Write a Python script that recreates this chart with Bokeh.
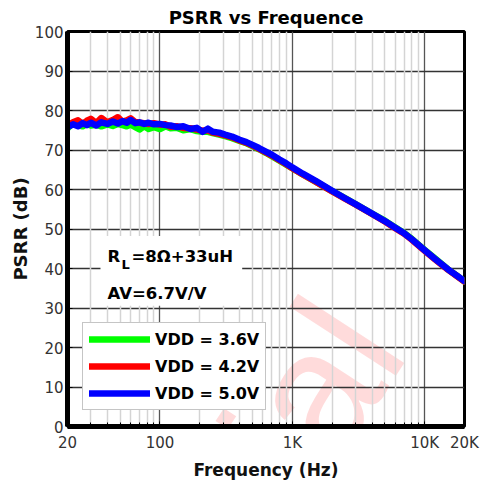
from bokeh.plotting import figure
from bokeh.models import (Range1d, FixedTicker, Grid, Label, BoxAnnotation)
from bokeh.core.properties import value
from bokeh.embed import file_html
from bokeh.resources import INLINE

# ---- data ----
freq = [20, 22, 24, 26, 28, 30, 33, 36, 40, 44, 48, 52, 56, 60, 65, 70, 76, 82, 90, 100,
        110, 120, 135, 150, 170, 190, 210, 230, 250, 280, 310, 350, 400, 450, 500, 560, 630,
        700, 800, 900, 1000, 1200, 1500, 2000, 2500, 3000, 4000, 5000, 6000, 7000, 8000,
        10000, 12000, 15000, 17500, 20000]

psrr_36 = [75.5, 76.8, 76.3, 76.0, 76.6, 76.2, 76.4, 76.0, 76.5, 76.1,
           76.6, 76.3, 76.0, 76.4, 75.8, 75.2, 76.0, 75.3, 75.8, 75.3,
           76.0, 75.5, 75.6, 75.0, 75.3, 74.8, 74.6, 74.6, 74.3, 73.9,
           73.5, 73.0, 72.3, 71.7, 71.0, 70.2, 69.3, 68.4, 67.3, 66.3,
           65.4, 63.8, 62.0, 59.6, 57.8, 56.3, 53.9, 52.1, 50.4, 49.0,
           47.5, 44.7, 42.5, 39.8, 38.2, 36.7]

psrr_42 = [76.2, 77.0, 77.5, 76.6, 77.4, 77.9, 76.8, 78.1, 77.0, 77.6,
           78.3, 77.2, 77.5, 78.0, 77.1, 76.9, 76.8, 76.6, 76.8, 76.4,
           76.5, 75.9, 76.0, 75.6, 75.5, 75.2, 74.9, 75.0, 74.4, 74.1,
           73.7, 73.2, 72.4, 71.8, 71.1, 70.3, 69.4, 68.6, 67.4, 66.4,
           65.4, 63.8, 62.0, 59.5, 57.7, 56.2, 53.8, 51.9, 50.2, 48.8,
           47.3, 44.5, 42.3, 39.7, 38.1, 36.7]

psrr_50 = [75.8, 76.5, 76.0, 76.8, 76.3, 76.9, 76.2, 77.0, 76.6, 77.2,
           76.7, 77.3, 76.9, 77.6, 76.8, 77.0, 76.6, 76.9, 76.5, 76.6,
           76.3, 76.2, 75.8, 76.0, 75.3, 75.6, 74.6, 75.4, 74.6, 74.4,
           73.9, 73.4, 72.6, 72.0, 71.3, 70.5, 69.6, 68.8, 67.6, 66.6,
           65.6, 64.0, 62.2, 59.7, 57.8, 56.3, 53.9, 52.0, 50.3, 48.9,
           47.4, 44.6, 42.4, 39.8, 38.2, 36.8]

series_labels = ["VDD = 3.6V", "VDD = 4.2V", "VDD = 5.0V"]
series_colors = ["#00ff00", "#ff0000", "#0000ff"]

x_major_ticks = [20, 100, 1000, 10000, 20000]
x_major_labels = {20: "20", 100: "100", 1000: "1K", 10000: "10K", 20000: "20K"}
x_minor_grid = [30, 40, 50, 60, 70, 80, 90,
                200, 300, 400, 500, 600, 700, 800, 900,
                2000, 3000, 4000, 5000, 6000, 7000, 8000, 9000]
y_ticks = [0, 10, 20, 30, 40, 50, 60, 70, 80, 90, 100]

FONT = "DejaVu Sans"

p = figure(width=480, height=482, x_axis_type="log",
           x_range=Range1d(20, 20000), y_range=Range1d(0, 100),
           output_backend="svg", toolbar_location=None,
           min_border_left=67, min_border_right=16,
           min_border_top=31, min_border_bottom=53)

p.background_fill_color = "white"
p.border_fill_color = "white"
p.outline_line_color = "black"
p.outline_line_width = 3

# title
p.title.text = "PSRR vs Frequence"
p.title.align = "center"
p.title.text_font = FONT
p.title.text_font_size = "18px"
p.title.text_font_style = "bold"
p.title.text_color = "black"
p.title.standoff = 8
p.title.offset = 0

# axes
xa = p.xaxis[0]
xa.ticker = FixedTicker(ticks=x_major_ticks, minor_ticks=x_minor_grid)
xa.major_label_overrides = x_major_labels
ya = p.yaxis[0]
ya.ticker = FixedTicker(ticks=y_ticks)

for ax in (xa, ya):
    ax.axis_line_color = "black"
    ax.axis_line_width = 5
    ax.major_tick_out = 0
    ax.major_tick_in = 5
    ax.major_tick_line_color = "black"
    ax.minor_tick_out = 0
    ax.minor_tick_in = 4
    ax.minor_tick_line_color = "black"
    ax.major_label_text_font = FONT
    ax.major_label_text_font_size = "15px"
    ax.major_label_text_color = "#333333"
    ax.axis_label_text_font = FONT
    ax.axis_label_text_font_style = "bold"
    ax.axis_label_text_color = "#111111"

xa.axis_label = "Frequency (Hz)"
xa.axis_label_text_font_size = "17px"
xa.major_label_standoff = 7
xa.axis_label_standoff = 5
ya.axis_label = "PSRR (dB)"
ya.axis_label_text_font_size = "18px"
ya.major_label_standoff = 4
ya.axis_label_standoff = 1

# grids
p.xgrid.ticker = FixedTicker(ticks=[100, 1000, 10000])
p.xgrid.grid_line_color = "#555555"
p.xgrid.grid_line_width = 1.3
p.ygrid.ticker = FixedTicker(ticks=y_ticks)
p.ygrid.grid_line_color = "#333333"
p.ygrid.grid_line_width = 1.3
minor_grid = Grid(dimension=0, ticker=FixedTicker(ticks=x_minor_grid),
                  grid_line_color="#d4d4d4", grid_line_width=1.5)
p.add_layout(minor_grid, "center")

# watermark (faint), drawn as a clipped glyph so it stays inside the frame
p.text(x=[390], y=[-20.6], text=["tial"], angle=0.995,
       text_font=value("Liberation Sans"), text_font_size="175px",
       text_color="#ff0000", text_alpha=0.14,
       text_baseline="alphabetic", text_align="left", level="underlay")

# curves
for ys, lab, col in zip([psrr_36, psrr_42, psrr_50], series_labels, series_colors):
    p.line(freq, ys, line_color=col, line_width=6.5, line_join="round",
           line_cap="round", legend_label=lab)

# annotation box + text
box = BoxAnnotation(left=35.5, right=418, bottom=30.6, top=48.2,
                    fill_color="white", fill_alpha=1.0, line_alpha=0, level="underlay")
p.add_layout(box)

ann_kw = dict(text_font=FONT, text_font_style="bold", text_color="black",
              text_baseline="alphabetic")
p.add_layout(Label(x=40.1, y=43.0, text="R", text_font_size="16.5px", **ann_kw))
p.add_layout(Label(x=40.1, y=43.0, x_offset=14, y_offset=-8, text="L",
                   text_font_size="13px", **ann_kw))
p.add_layout(Label(x=40.1, y=43.0, x_offset=24, text="=8Ω+33uH",
                   text_font_size="16.5px", **ann_kw))
p.add_layout(Label(x=40.1, y=33.6, text="AV=6.7V/V", text_font_size="16.5px", **ann_kw))

# legend
lg = p.legend[0]
lg.location = (15, 16)
lg.background_fill_color = "white"
lg.background_fill_alpha = 1.0
lg.border_line_color = "#8c8c8c"
lg.border_line_width = 1.5
lg.padding = 6
lg.spacing = 7
lg.margin = 0
lg.glyph_width = 61
lg.glyph_height = 20
lg.label_height = 20
lg.label_standoff = 5
lg.label_text_font = FONT
lg.label_text_font_style = "bold"
lg.label_text_font_size = "16px"
lg.label_text_color = "black"

open("out.html", "w").write(file_html(p, INLINE))
